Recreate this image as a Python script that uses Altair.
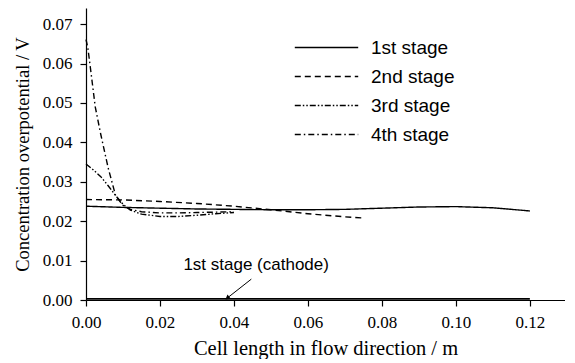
import altair as alt
import pandas as pd

stages = ["1st stage", "2nd stage", "3rd stage", "4th stage"]

x1 = [0, 0.01, 0.02, 0.03, 0.04, 0.05, 0.06, 0.07, 0.08, 0.09, 0.10, 0.11, 0.12]
y1 = [0.0238, 0.0235, 0.0233, 0.0231, 0.0230, 0.0229, 0.0229, 0.0230, 0.0233, 0.0236, 0.0237, 0.0234, 0.0226]

x2 = [0, 0.01, 0.02, 0.03, 0.04, 0.05, 0.06, 0.07, 0.075]
y2 = [0.0255, 0.0254, 0.0250, 0.0245, 0.0238, 0.0229, 0.0219, 0.0211, 0.0208]

x3 = [0, 0.002, 0.004, 0.006, 0.008, 0.01, 0.012, 0.015, 0.02, 0.025, 0.03, 0.035, 0.04]
y3 = [0.0345, 0.0330, 0.0313, 0.0290, 0.0265, 0.0243, 0.0228, 0.0218, 0.0212, 0.0212, 0.0215, 0.0219, 0.0222]

x4 = [0, 0.0005, 0.0015, 0.0025, 0.004, 0.006, 0.008, 0.010, 0.012, 0.015, 0.02, 0.025, 0.03, 0.035, 0.04]
y4 = [0.0661, 0.0640, 0.0566, 0.0490, 0.0420, 0.0335, 0.0265, 0.0240, 0.0230, 0.0224, 0.0221, 0.0221, 0.0222, 0.0223, 0.0224]

x_cath = [0, 0.04, 0.08, 0.12]
y_cath = [0.0003, 0.0003, 0.0003, 0.0003]

annot_text = ["1st stage (cathode)"]
annot_x = [0.046]
annot_y = [0.0089]
arrow_x = [0.0447, 0.0382]
arrow_y = [0.0053, 0.0005]

x_ticks = [i * 0.01 for i in range(13)]
y_ticks = [i * 0.005 for i in range(15)]

rows = []
for s, xs, ys in zip(stages, [x1, x2, x3, x4], [y1, y2, y3, y4]):
    for a, b in zip(xs, ys):
        rows.append({"stage": s, "x": a, "y": b})
df = pd.DataFrame(rows)
df_cath = pd.DataFrame({"x": x_cath, "y": y_cath})
df_annot = pd.DataFrame({"x": annot_x, "y": annot_y, "t": annot_text})
df_arrow = pd.DataFrame({"x": arrow_x, "y": arrow_y, "o": [0, 1]})

XDOM = [0, 0.1295]
YDOM = [0, 0.0741]

xscale = alt.Scale(domain=XDOM, nice=False, zero=False)
yscale = alt.Scale(domain=YDOM, nice=False, zero=False)

xaxis = alt.Axis(
    title="Cell length in flow direction / m",
    values=x_ticks,
    labelExpr="abs(datum.value*50 - round(datum.value*50)) < 1e-6 ? format(datum.value, '.2f') : ''",
    tickSize={"condition": {"test": "abs(datum.value*50 - round(datum.value*50)) < 1e-6", "value": 6}, "value": 4},
    labelPadding=8, titlePadding=8, titleFontSize=20.5,
)
yaxis = alt.Axis(
    title="Concentration overpotential / V",
    values=y_ticks,
    labelExpr="abs(datum.value*100 - round(datum.value*100)) < 1e-6 ? format(datum.value, '.2f') : ''",
    tickSize={"condition": {"test": "abs(datum.value*100 - round(datum.value*100)) < 1e-6", "value": 6}, "value": 4},
    labelPadding=8, titlePadding=10, titleFontSize=18.5,
)

lines = alt.Chart(df).mark_line(color="black", strokeWidth=1.4).encode(
    x=alt.X("x:Q", scale=xscale, axis=xaxis),
    y=alt.Y("y:Q", scale=yscale, axis=yaxis),
    strokeDash=alt.StrokeDash(
        "stage:N",
        scale=alt.Scale(domain=stages, range=[[1, 0], [6, 4], [6, 2, 1.5, 2, 1.5, 2], [6, 3, 1.5, 3]]),
        legend=alt.Legend(
            title=None, orient="none", legendX=225, legendY=24,
            labelFont="Liberation Sans", labelFontSize=19, labelColor="black",
            symbolType="M-2.15,0H2.15", symbolSize=870, symbolStrokeWidth=1.4,
            symbolStrokeColor="black", rowPadding=3, labelOffset=29,
        ),
    ),
    order="x:Q",
)

cath = alt.Chart(df_cath).mark_line(color="black", strokeWidth=1.8).encode(
    x=alt.X("x:Q", scale=xscale), y=alt.Y("y:Q", scale=yscale)
)

annot = alt.Chart(df_annot).mark_text(
    font="Liberation Sans", fontSize=17, color="black", align="center", baseline="middle"
).encode(x=alt.X("x:Q", scale=xscale), y=alt.Y("y:Q", scale=yscale), text="t:N")

arrow = alt.Chart(df_arrow).mark_line(color="black", strokeWidth=1).encode(
    x=alt.X("x:Q", scale=xscale), y=alt.Y("y:Q", scale=yscale), order="o:Q"
)
head = alt.Chart(df_arrow[df_arrow.o == 1]).mark_point(
    shape="triangle-up", filled=True, color="black", size=30, angle=232, opacity=1
).encode(x=alt.X("x:Q", scale=xscale), y=alt.Y("y:Q", scale=yscale))

chart = alt.layer(lines, cath, arrow, head, annot).properties(
    width=479, height=292, padding={"left": 5, "top": 0, "right": 0, "bottom": 0}
).configure(background="white").configure_view(stroke=None).configure_axis(
    grid=False,
    labelFont="Liberation Serif", labelFontSize=17, labelColor="black",
    titleFont="Liberation Serif", titleFontWeight="normal", titleColor="black",
    domainColor="black", tickColor="black", domainWidth=1.2, tickWidth=1.2,
    labelFlush=False, labelOverlap=False,
)

chart.save("out.html", embed_options={"renderer": "svg", "actions": False})
